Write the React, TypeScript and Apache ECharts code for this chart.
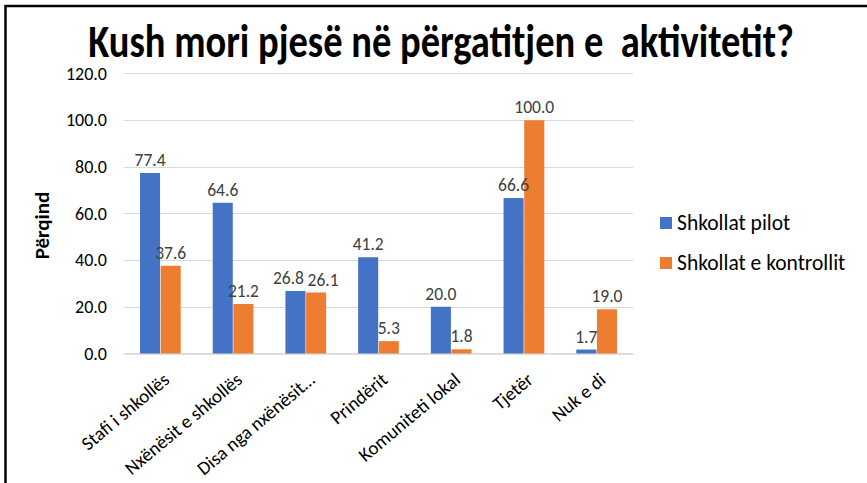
import React, { useEffect, useRef } from "react";
import * as echarts from "echarts";

const categories = [
  "Stafi i shkollës",
  "Nxënësit e shkollës",
  "Disa nga nxënësit…",
  "Prindërit",
  "Komuniteti lokal",
  "Tjetër",
  "Nuk e di",
];
const pilotValues = [77.4, 64.6, 26.8, 41.2, 20.0, 66.6, 1.7];
const controlValues = [37.6, 21.2, 26.1, 5.3, 1.8, 100.0, 19.0];
const seriesNames = ["Shkollat pilot", "Shkollat e kontrollit"];
const titleText = "Kush mori pjesë në përgatitjen e  aktivitetit?";
const yAxisName = "Përqind";

const FONT = "Carlito, 'Liberation Sans Narrow', 'Open Sans', sans-serif";

export default function App() {
  const ref = useRef<HTMLDivElement>(null);
  useEffect(() => {
    if (!ref.current) return;
    const chart = echarts.init(ref.current, undefined, { renderer: "svg" });
    const labelCfg = {
      show: true,
      position: "top" as const,
      distance: 4,
      color: "#404040",
      fontSize: 17.5,
      fontFamily: FONT,
      formatter: (p: any) => Number(p.value).toFixed(1),
    };
    // nudge the two labels of the third category apart, as in the reference
    const pilotData = pilotValues.map((v, i) =>
      i === 2 ? { value: v, label: { offset: [-7, 0] } } : v
    );
    const controlData = controlValues.map((v, i) =>
      i === 2 ? { value: v, label: { offset: [7, 0] } } : v
    );
    chart.setOption({
      animation: false,
      backgroundColor: "#ffffff",
      textStyle: { fontFamily: FONT },
      graphic: [
        { type: "line", shape: { x1: 5, y1: 6, x2: 867, y2: 6 }, style: { stroke: "#000", lineWidth: 2.5 } },
        { type: "line", shape: { x1: 5.5, y1: 5, x2: 5.5, y2: 483 }, style: { stroke: "#000", lineWidth: 2.5 } },
        {
          type: "text",
          x: 441,
          y: 41,
          scaleY: 1.19,
          style: {
            text: titleText,
            fontSize: 38.5,
            fontWeight: "bold",
            fontFamily: FONT,
            fill: "#000",
            align: "center",
            verticalAlign: "middle",
          },
        },
      ],
      legend: {
        orient: "vertical",
        left: 655,
        top: 207,
        itemGap: 18,
        itemWidth: 12,
        itemHeight: 12,
        icon: "rect",
        textStyle: { fontSize: 21.5, color: "#000", fontFamily: FONT },
        data: seriesNames,
      },
      grid: { left: 124, right: 234, top: 73.5, bottom: 129.5 },
      xAxis: {
        type: "category",
        data: categories,
        axisLine: { lineStyle: { color: "#d9d9d9", width: 1.5 } },
        axisTick: { show: false },
        axisLabel: {
          rotate: 40,
          fontSize: 19,
          color: "#000",
          fontFamily: FONT,
          margin: 16,
          interval: 0,
          align: "right",
          verticalAlign: "top",
        },
      },
      yAxis: {
        type: "value",
        min: 0,
        max: 120,
        interval: 20,
        name: yAxisName,
        nameLocation: "middle",
        nameGap: 72,
        nameTextStyle: { fontSize: 21, fontWeight: "bold", color: "#000", fontFamily: FONT, padding: [0, 24, 0, 0] },
        axisLabel: { formatter: (v: number) => v.toFixed(1), fontSize: 18, color: "#000", fontFamily: FONT, margin: 17 },
        splitLine: { lineStyle: { color: "#d9d9d9", width: 1 } },
        axisLine: { show: false },
        axisTick: { show: false },
      },
      series: [
        {
          name: seriesNames[0],
          type: "bar",
          data: pilotData,
          itemStyle: { color: "#4472C4" },
          barGap: "3%",
          barCategoryGap: "44%",
          label: labelCfg,
        },
        {
          name: seriesNames[1],
          type: "bar",
          data: controlData,
          itemStyle: { color: "#ED7D31" },
          barGap: "3%",
          barCategoryGap: "44%",
          label: labelCfg,
        },
      ],
    });
    return () => chart.dispose();
  }, []);
  return (
    <div
      ref={ref}
      style={{ position: "absolute", left: 0, top: 0, width: 867, height: 483 }}
    />
  );
}
